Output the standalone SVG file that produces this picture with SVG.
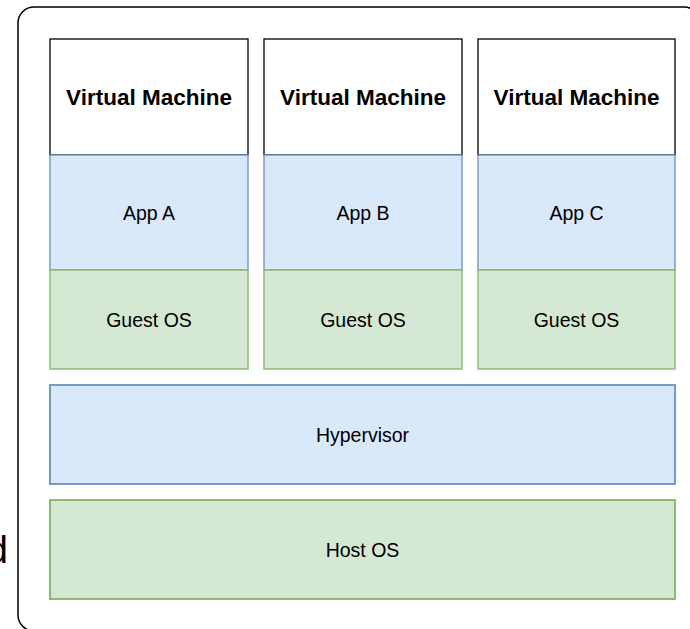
<svg xmlns="http://www.w3.org/2000/svg" width="690" height="629" viewBox="0 0 690 629">
<style>
text{font-family:"Liberation Sans",Arial,Helvetica,sans-serif;fill:#000;text-anchor:middle;dominant-baseline:central}
.t{font-size:19.5px}
.b{font-size:22.5px;font-weight:bold}
.hdr{fill:#ffffff;stroke:#000;stroke-width:1.3}
.blue{fill:#dae8fc;stroke:#6c8ebf;stroke-width:1.3}
.green{fill:#d5e8d4;stroke:#82b366;stroke-width:1.3}
</style>
<rect width="690" height="629" fill="#fff"/>
<g id="frame">
<rect x="18" y="7" width="682" height="624" rx="16" fill="none" stroke="#000" stroke-width="1.5"/>
<text x="8" y="550" style="font-size:38px;text-anchor:end">d</text>
</g>
<g id="vm1">
<rect class="hdr" x="50" y="39" width="198" height="116"/>
<text class="b" x="149" y="97">Virtual Machine</text>
</g>
<g id="appA">
<rect class="blue" x="50" y="155" width="198" height="115"/>
<text class="t" x="149" y="212.5">App A</text>
</g>
<g id="guest1">
<rect class="green" x="50" y="270" width="198" height="99"/>
<text class="t" x="149" y="319.5">Guest OS</text>
</g>
<g id="vm2">
<rect class="hdr" x="264" y="39" width="198" height="116"/>
<text class="b" x="363" y="97">Virtual Machine</text>
</g>
<g id="appB">
<rect class="blue" x="264" y="155" width="198" height="115"/>
<text class="t" x="363" y="212.5">App B</text>
</g>
<g id="guest2">
<rect class="green" x="264" y="270" width="198" height="99"/>
<text class="t" x="363" y="319.5">Guest OS</text>
</g>
<g id="vm3">
<rect class="hdr" x="478" y="39" width="197" height="116"/>
<text class="b" x="576.5" y="97">Virtual Machine</text>
</g>
<g id="appC">
<rect class="blue" x="478" y="155" width="197" height="115"/>
<text class="t" x="576.5" y="212.5">App C</text>
</g>
<g id="guest3">
<rect class="green" x="478" y="270" width="197" height="99"/>
<text class="t" x="576.5" y="319.5">Guest OS</text>
</g>
<g id="hypervisor">
<rect class="blue" x="50" y="385" width="625" height="99" style="stroke-width:1.8"/>
<text class="t" x="362.5" y="434.5">Hypervisor</text>
</g>
<g id="hostos">
<rect class="green" x="50" y="500" width="625" height="99" style="stroke-width:1.8"/>
<text class="t" x="362.5" y="549.5">Host OS</text>
</g>
<g id="connectors"></g>
</svg>
